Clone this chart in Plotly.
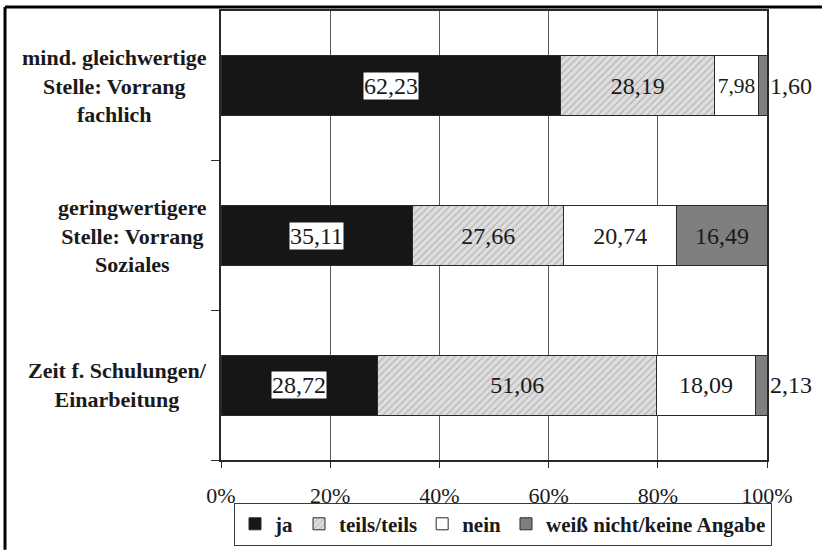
import plotly.graph_objects as go

# Survey items (top to bottom) and answer shares in percent
categories = [
    "mind. gleichwertige<br>Stelle: Vorrang<br>fachlich",
    "geringwertigere<br>Stelle: Vorrang<br>Soziales",
    "Zeit f. Schulungen/<br>Einarbeitung",
]
ja = [62.23, 35.11, 28.72]
teils = [28.19, 27.66, 51.06]
nein = [7.98, 20.74, 18.09]
weiss_nicht = [1.60, 16.49, 2.13]

series_names = ["ja", "teils/teils", "nein", "weiß nicht/keine Angabe"]
x_ticks = [0, 20, 40, 60, 80, 100]

FONT = "Liberation Serif"
VAL_SIZE = 24
ypos = list(range(len(categories)))

fig = go.Figure()
line = dict(color="#2a2a2a", width=1)
val_font = dict(family=FONT, size=VAL_SIZE, color="#1a1a1a")

fig.add_trace(go.Bar(
    y=ypos, x=ja, orientation="h", name=f"<b>{series_names[0]}</b>",
    marker=dict(color="#161616", line=line), width=0.4,
    textposition="none", hoverinfo="x+name",
))
fig.add_trace(go.Bar(
    y=ypos, x=teils, orientation="h", name=f"<b>{series_names[1]}</b>",
    marker=dict(color="#dedede", line=line,
                pattern=dict(shape="/", fgcolor="#8c8c8c", bgcolor="#dedede",
                             size=5, solidity=0.25)),
    width=0.4, texttemplate="%{x:.2f}", textposition="inside",
    insidetextanchor="middle", textangle=0, textfont=val_font,
))
fig.add_trace(go.Bar(
    y=ypos, x=nein, orientation="h", name=f"<b>{series_names[2]}</b>",
    marker=dict(color="#ffffff", line=line), width=0.4,
    texttemplate="%{x:.2f}", textposition="inside",
    insidetextanchor="middle", textangle=0, textfont=val_font,
))
fig.add_trace(go.Bar(
    y=ypos, x=weiss_nicht, orientation="h", name=f"<b>{series_names[3]}</b>",
    marker=dict(color="#7f7f7f", line=line), width=0.4,
    texttemplate="%{x:.2f}",
    textposition=["outside" if v < 5 else "inside" for v in weiss_nicht],
    insidetextanchor="middle", textangle=0, cliponaxis=False,
    textfont=val_font, outsidetextfont=val_font,
))

annotations = []
# "ja" values in white boxes centred on the black segments
for i, v in enumerate(ja):
    annotations.append(dict(
        x=v / 2, y=i, xref="x", yref="y", text=f"{v:.2f}".replace(".", ","),
        showarrow=False, bgcolor="#ffffff", borderpad=0, font=val_font,
    ))
# category labels, centred lines
for i, c in enumerate(categories):
    annotations.append(dict(
        x=-0.022, y=i, xref="paper", yref="y", text=f"<b>{c}</b>",
        showarrow=False, xanchor="right", yanchor="middle", align="center",
        font=dict(family=FONT, size=22, color="#1a1a1a"),
    ))

# outer frame (top and left edges)
shapes = [
    dict(type="line", xref="paper", yref="paper", x0=-0.3956, x1=1.1007,
         y0=1.0087, y1=1.0087, line=dict(color="#000000", width=3)),
    dict(type="line", xref="paper", yref="paper", x0=-0.3956, x1=-0.3956,
         y0=1.0087, y1=-0.2, line=dict(color="#000000", width=3)),
]

fig.update_layout(
    barmode="stack",
    width=825, height=555,
    margin=dict(l=221, r=58, t=9, b=88),
    paper_bgcolor="#ffffff", plot_bgcolor="#ffffff",
    separators=",.",
    font=dict(family=FONT, size=22, color="#1a1a1a"),
    showlegend=True,
    legend=dict(
        orientation="h", x=0.5165, xanchor="center", y=-0.095, yanchor="top",
        bordercolor="#3a3a3a", borderwidth=1, bgcolor="#ffffff",
        font=dict(family=FONT, size=21, color="#1a1a1a"),
        traceorder="normal", itemwidth=30,
    ),
    annotations=annotations,
    shapes=shapes,
    xaxis=dict(
        range=[0, 100], tickvals=x_ticks,
        ticktext=[f"{t}%" for t in x_ticks],
        showgrid=True, gridcolor="#5a5a5a", gridwidth=1,
        showline=True, linecolor="#2a2a2a", linewidth=1.5, mirror=True,
        ticks="outside", ticklen=6, tickcolor="#2a2a2a",
        tickfont=dict(family=FONT, size=22, color="#1a1a1a"),
        zeroline=False, fixedrange=True, ticklabelstandoff=9,
    ),
    yaxis=dict(
        range=[2.5, -0.5], tickvals=[0.5, 1.5, 2.5],
        showticklabels=False, ticks="outside", ticklen=8, tickcolor="#2a2a2a",
        showgrid=False, showline=True, linecolor="#2a2a2a", linewidth=1.5,
        mirror=True, zeroline=False, fixedrange=True,
    ),
)

fig.write_html("out.html")
